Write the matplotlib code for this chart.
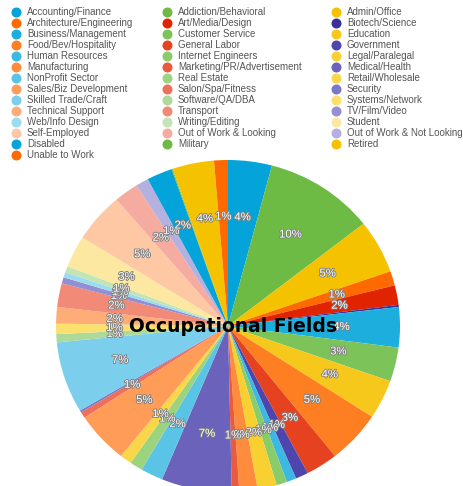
import matplotlib
matplotlib.use('Agg')
import matplotlib.pyplot as plt
import matplotlib.patheffects as pe
from matplotlib.lines import Line2D

# data, in legend (row-major) order == slice order clockwise from 12 o'clock
fields = ['Accounting/Finance', 'Addiction/Behavioral', 'Admin/Office',
          'Architecture/Engineering', 'Art/Media/Design', 'Biotech/Science',
          'Business/Management', 'Customer Service', 'Education',
          'Food/Bev/Hospitality', 'General Labor', 'Government',
          'Human Resources', 'Internet Engineers', 'Legal/Paralegal',
          'Manufacturing', 'Marketing/PR/Advertisement', 'Medical/Health',
          'NonProfit Sector', 'Real Estate', 'Retail/Wholesale',
          'Sales/Biz Development', 'Salon/Spa/Fitness', 'Security',
          'Skilled Trade/Craft', 'Software/QA/DBA', 'Systems/Network',
          'Technical Support', 'Transport', 'TV/Film/Video',
          'Web/Info Design', 'Writing/Editing', 'Student',
          'Self-Employed', 'Out of Work & Looking', 'Out of Work & Not Looking',
          'Disabled', 'Military', 'Retired',
          'Unable to Work']
shares = [4.1, 10.3, 5.2,
          1.4, 1.9, 0.2,
          3.9, 3.3, 3.8,
          5.1, 3.0, 1.2,
          0.9, 1.0, 1.8,
          1.7, 0.7, 6.6,
          2.1, 1.2, 1.1,
          5.0, 0.6, 0.2,
          6.9, 0.8, 1.0,
          1.6, 2.3, 0.6,
          0.5, 0.6, 3.1,
          4.8, 2.3, 1.2,
          2.4, 0.1, 3.9,
          1.3]
colors = ['#04a3d9', '#6dbb45', '#f5c200', '#ff6a00', '#e02400', '#3a2e9e',
          '#1eaedd', '#7cc35a', '#f7c81c', '#fd7f22', '#e6421f', '#4f46ad',
          '#3cb8e2', '#8acb6a', '#f9d032', '#ff8c3c', '#ea5a3c', '#6a62bb',
          '#5ac4e6', '#9cd37f', '#fad74a', '#ff9c58', '#ee705a', '#7c77c6',
          '#7ccfec', '#add99a', '#fbe06d', '#ffad78', '#f28a78', '#948fd2',
          '#9cdcf0', '#c3e4b5', '#fce8a0', '#ffc8a5', '#f5aba0', '#b4b0e0',
          '#04a3d9', '#6dbb45', '#f5c200', '#ff6a00']

W, H = 464, 486
fig = plt.figure(figsize=(W / 100, H / 100), dpi=100)

# pie axes (slightly wider than tall, bottom runs off the canvas)
cx, cy, rx, ry = 228, 326, 172, 166
ax = fig.add_axes([(cx - rx) / W, (H - cy - ry) / H, 2 * rx / W, 2 * ry / H])
wedges, texts, autotexts = ax.pie(
    shares, colors=colors, startangle=90, counterclock=False,
    autopct=lambda p: f'{p:.0f}%' if p >= 0.5 else '',
    pctdistance=0.66, wedgeprops=dict(linewidth=0),
    textprops=dict(color='white', fontsize=8.2, family='Liberation Sans'))
for t in autotexts:
    t.set_path_effects([pe.withStroke(linewidth=1.3, foreground='#808080')])
ax.set_aspect('auto')
ax.set_xlim(-1, 1)
ax.set_ylim(-1, 1)
ax.axis('off')

fig.text(233 / W, 1 - 327 / H, 'Occupational Fields', ha='center', va='center',
         fontsize=13.5, fontweight='bold', color='black', family='DejaVu Sans')

# legend: 3 columns, filled row by row
col_x = [16, 167, 336]
y0, dy = 12.3, 10.98
for i, (name, c) in enumerate(zip(fields, colors)):
    row, col = divmod(i, 3)
    x = col_x[col]
    y = 1 - (y0 + row * dy) / H
    fig.add_artist(Line2D([x / W], [y], marker='o', markersize=6.2, color=c,
                          linestyle='none', transform=fig.transFigure))
    fig.text((x + 11) / W, y, name, ha='left', va='center', fontsize=7.0,
             color='#555555', family='Liberation Sans')

fig.savefig('out.png', dpi=100)
